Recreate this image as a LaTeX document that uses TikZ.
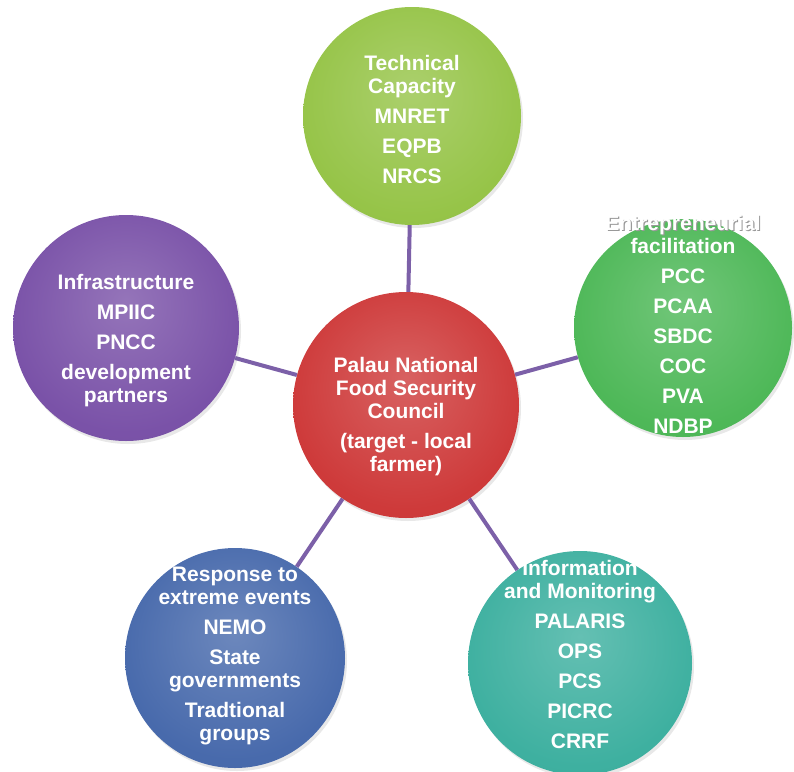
\documentclass[tikz,border=0pt]{standalone}
\usepackage{fontspec}
\setmainfont{Liberation Sans}
\usetikzlibrary{shadows}

\definecolor{techgreen}{RGB}{150,196,72}
\definecolor{entregreen}{RGB}{78,184,88}
\definecolor{infoteal}{RGB}{62,176,160}
\definecolor{respblue}{RGB}{72,106,172}
\definecolor{infrapurple}{RGB}{122,82,168}
\definecolor{councilred}{RGB}{206,58,58}
\definecolor{linkpurple}{RGB}{124,96,168}

% glossy disc: light middle, darker rim
\colorlet{discbase}{gray}
\pgfdeclareradialshading[discbase]{disc}{\pgfpoint{0bp}{6bp}}{%
  color(0bp)=(discbase!80!white);
  color(26bp)=(discbase);
  color(42bp)=(discbase!94!black);
  color(50bp)=(discbase!80!black)}

% white text with a grey shadow behind it
\newcommand{\shadowed}[1]{\makebox[0pt][l]{\hspace{1.2pt}\raisebox{-1.2pt}{\color{black!40}#1}}#1}

\begin{document}
\begin{tikzpicture}[x=1pt,y=-1pt,
  ball/.style={circle, minimum size=#1, inner sep=0pt, shading=disc,
    drop shadow={opacity=0.18, shadow xshift=2pt, shadow yshift=-3pt}},
  tint/.style={/utils/exec={\colorlet{discbase}{#1}}},
  lbl/.style={text=white, align=center, font=\bfseries\fontsize{21}{23}\selectfont},
  link/.style={line width=4pt, draw=linkpurple}]
\useasboundingbox (0,0) rectangle (794,771);

% council in the middle
\node[tint=councilred, ball=226pt,
  label={[lbl, yshift=-12pt]center:{Palau National\\Food Security\\Council\\[7pt](target - local\\farmer)}}]
  (pnfsc) at (406,405) {};

% the five partner groups
\node[tint=techgreen, ball=218pt,
  label={[lbl, yshift=-3pt]center:{Technical\\Capacity\\[7pt]MNRET\\[7pt]EQPB\\[7pt]NRCS}}]
  (tech) at (412,116) {};
\node[tint=entregreen, ball=218pt,
  label={[lbl, yshift=4pt]center:{\shadowed{Entrepreneurial}\\facilitation\\[7pt]PCC\\[7pt]PCAA\\[7pt]SBDC\\[7pt]COC\\[7pt]PVA\\[7pt]NDBP}}]
  (entre) at (683,328) {};
\node[tint=infoteal, ball=224pt,
  label={[lbl, yshift=9pt]center:{Information\\and Monitoring\\[7pt]PALARIS\\[7pt]OPS\\[7pt]PCS\\[7pt]PICRC\\[7pt]CRRF}}]
  (info) at (580,663) {};
\node[tint=respblue, ball=220pt,
  label={[lbl, yshift=2pt]center:{Response to\\extreme events\\[7pt]NEMO\\[7pt]State\\governments\\[7pt]Tradtional\\groups}}]
  (resp) at (235,658) {};
\node[tint=infrapurple, ball=226pt,
  label={[lbl, yshift=-13pt]center:{Infrastructure\\[7pt]MPIIC\\[7pt]PNCC\\[7pt]development\\partners}}]
  (infra) at (126,328) {};

\foreach \n in {tech,entre,info,resp,infra} {
\draw[link] (pnfsc) -- (\n);
}

\end{tikzpicture}
\end{document}
